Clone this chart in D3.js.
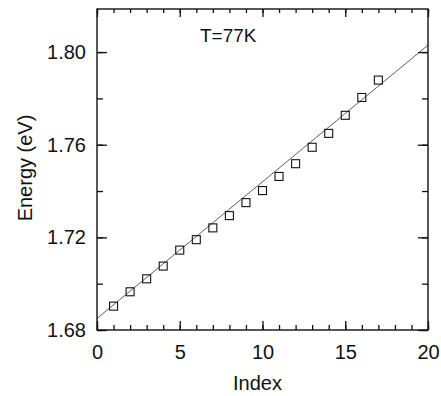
<!DOCTYPE html>
<meta charset="utf-8">
<style>
body { margin: 0; background: #fff; }
text { font-family: "Liberation Sans", Arial, sans-serif; fill: #111; }
.axis path { display: none; }
.axis line { stroke: #111; stroke-width: 1.3px; }
.fit { fill: none; stroke: #333; stroke-width: 0.8px; }
.pt { fill: none; stroke: #111; stroke-width: 1.1px; }
</style>
<body>
<script src="https://d3js.org/d3.v7.min.js"></script>
<script>

// data
var index = [1, 2, 3, 4, 5, 6, 7, 8, 9, 10, 11, 12, 13, 14, 15, 16, 17];
var energy = [1.6903, 1.6965, 1.7021, 1.7076, 1.7145, 1.7190, 1.7241, 1.7294, 1.7350,
              1.7402, 1.7463, 1.7518, 1.7589, 1.7649, 1.7727, 1.7804, 1.7879];
// straight line fit, end points
var fitX = [0, 20];
var fitY = [1.685, 1.803];
var xTicks = [0, 5, 10, 15, 20];
var yTicks = [1.68, 1.72, 1.76, 1.80];
var label = "T=77K";

var margin = {top: 9, right: 13, bottom: 66, left: 97},
    width = 441 - margin.left - margin.right,
    height = 396 - margin.top - margin.bottom;

var x = d3.scaleLinear().domain([0, 20]).range([0, width]);
var y = d3.scaleLinear().domain([1.68, 1.8186]).range([height, 0]);

var svg = d3.select("body").append("svg")
    .attr("width", 441)
    .attr("height", 396)
  .append("g")
    .attr("transform", "translate(" + margin.left + "," + margin.top + ")");

var minorX = d3.range(0, 21, 1);
var minorY = d3.range(1.68, 1.8186, 0.02);

// bottom axis
svg.append("g").attr("class", "axis")
    .attr("transform", "translate(0," + height + ")")
    .call(d3.axisBottom(x).tickValues(minorX).tickSize(-5).tickFormat(""));
svg.append("g").attr("class", "axis")
    .attr("transform", "translate(0," + height + ")")
    .call(d3.axisBottom(x).tickValues(xTicks).tickSize(-9).tickPadding(15).tickFormat(d3.format("d")))
    .selectAll("text").style("font-size", "20px");

// top axis (mirror)
svg.append("g").attr("class", "axis")
    .call(d3.axisTop(x).tickValues(minorX).tickSize(-4).tickFormat(""));
svg.append("g").attr("class", "axis")
    .call(d3.axisTop(x).tickValues(xTicks).tickSize(-8).tickFormat(""));

// left axis
svg.append("g").attr("class", "axis")
    .call(d3.axisLeft(y).tickValues(minorY).tickSize(-6).tickFormat(""));
svg.append("g").attr("class", "axis")
    .call(d3.axisLeft(y).tickValues(yTicks).tickSize(-10).tickPadding(11).tickFormat(d3.format(".2f")))
    .selectAll("text").style("font-size", "20px");

// right axis (mirror)
svg.append("g").attr("class", "axis")
    .attr("transform", "translate(" + width + ",0)")
    .call(d3.axisRight(y).tickValues(minorY).tickSize(-6).tickFormat(""));
svg.append("g").attr("class", "axis")
    .attr("transform", "translate(" + width + ",0)")
    .call(d3.axisRight(y).tickValues(yTicks).tickSize(-10).tickFormat(""));

// frame
svg.append("rect")
    .attr("width", width)
    .attr("height", height)
    .attr("fill", "none")
    .attr("stroke", "#111")
    .attr("stroke-width", 1.4);

// fit line
var line = d3.line()
    .x(function(d) { return x(d[0]); })
    .y(function(d) { return y(d[1]); });
svg.append("path")
    .datum(d3.zip(fitX, fitY))
    .attr("class", "fit")
    .attr("d", line);

// square markers
var s = 8;
svg.selectAll(".pt")
    .data(d3.zip(index, energy))
  .enter().append("rect")
    .attr("class", "pt")
    .attr("x", function(d) { return x(d[0]) - s / 2; })
    .attr("y", function(d) { return y(d[1]) - s / 2; })
    .attr("width", s)
    .attr("height", s);

// labels
svg.append("text")
    .attr("x", 103)
    .attr("y", 33)
    .style("font-size", "19px")
    .text(label);

svg.append("text")
    .attr("x", width / 2 - 5)
    .attr("y", height + 60)
    .attr("text-anchor", "middle")
    .style("font-size", "20px")
    .text("Index");

svg.append("text")
    .attr("transform", "rotate(-90)")
    .attr("x", -159)
    .attr("y", -65)
    .attr("text-anchor", "middle")
    .style("font-size", "20px")
    .text("Energy (eV)");

</script>
</body>
